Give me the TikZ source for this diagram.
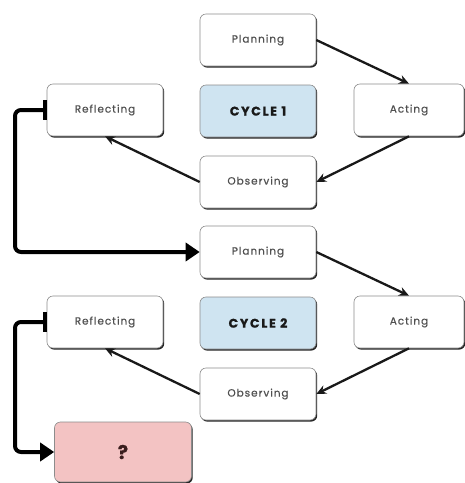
\documentclass[tikz,border=0pt]{standalone}
\usepackage{fontspec}
\setmainfont{Poppins}
\usetikzlibrary{arrows.meta,shadows}
\definecolor{cyc}{HTML}{CFE4F1}
\definecolor{qfill}{HTML}{F3C3C3}
\definecolor{txt}{HTML}{505050}
\definecolor{qtxt}{HTML}{3A1E1E}
\begin{document}
\begin{tikzpicture}[x=1pt,y=-1pt,
  box/.style={draw=black!45, line width=0.6pt, fill=white, rounded corners=6pt,
    minimum width=116pt, minimum height=52pt, inner sep=0pt,
    font=\fontsize{10.5}{12}\selectfont\addfontfeature{LetterSpace=9,FakeBold=0.4}, text=txt,
    drop shadow={shadow xshift=1.2pt, shadow yshift=-1.6pt, fill=black!85, opacity=1}},
  cycbox/.style={box, fill=cyc, text=black!90, font=\fontsize{12.5}{14}\bfseries\selectfont\addfontfeature{LetterSpace=14,FakeBold=1.2}},
  qbox/.style={box, fill=qfill, text=qtxt, minimum width=137pt, minimum height=60pt, font=\fontsize{19}{21}\bfseries\selectfont\addfontfeature{FakeBold=1}},
  thin/.style={draw=black!90, line width=2.3pt, -{Stealth[length=10pt,width=9pt]}},
  thick/.style={draw=black, line width=4pt, rounded corners=6pt, {Bar[width=20pt,line width=4pt]}-{Triangle[length=14pt,width=18pt]}}
]
\useasboundingbox (0,0) rectangle (465,483);
% Cycle 1
\node[box] (p1) at (258,40) {Planning};
\node[box] (r1) at (105,110) {Reflecting};
\node[cycbox] (c1) at (258,111) {CYCLE 1};
\node[box, minimum width=110pt] (a1) at (409,110) {Acting};
\node[box] (o1) at (258,182) {Observing};
% Cycle 2
\node[box] (p2) at (258,252) {Planning};
\node[box] (r2) at (105,322) {Reflecting};
\node[cycbox] (c2) at (258,323) {CYCLE 2};
\node[box, minimum width=110pt] (a2) at (409,322) {Acting};
\node[box] (o2) at (258,394) {Observing};
\node[qbox] (q) at (123,452) {?};
% thin arrows
\draw[thin] (p1.east) -- (a1.north);
\draw[thin] (a1.south) -- (o1.east);
\draw[thin] (o1.west) -- (r1.south);
\draw[thin] (p2.east) -- (a2.north);
\draw[thin] (a2.south) -- (o2.east);
\draw[thin] (o2.west) -- (r2.south);
% thick connectors
\coordinate (k1) at (15,110);
\coordinate (k2) at (15,322);
\draw[thick] (r1.west) -- (k1) |- (p2.west);
\draw[thick] (r2.west) -- (k2) |- (q.west);
\end{tikzpicture}
\end{document}
